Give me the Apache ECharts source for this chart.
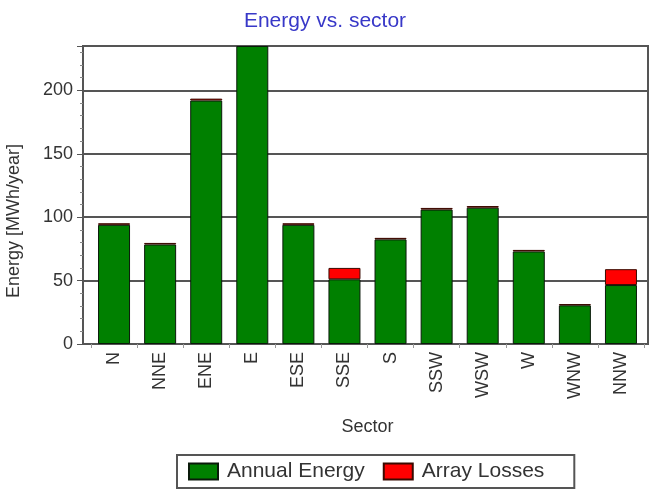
<!DOCTYPE html>
<html>
<head>
<meta charset="utf-8">
<script src="https://cdn.jsdelivr.net/npm/echarts@6/dist/echarts.min.js"></script>
<style>
  html, body { margin: 0; padding: 0; background: #fff; }
  #chart { width: 650px; height: 491px; }
</style>
</head>
<body>
<div id="chart"></div>
<script>
// sectors and energies
const sectors = ['N', 'NNE', 'ENE', 'E', 'ESE', 'SSE', 'S', 'SSW', 'WSW', 'W', 'WNW', 'NNW'];
const annualEnergy = [94, 78.5, 192, 235, 94, 51, 82.5, 106, 107.5, 73, 30.5, 46.5];
const arrayLosses = [1.2, 1.2, 1.5, 2, 1.2, 9, 1.2, 1.3, 1.3, 1.2, 1, 12.5];
const yTicks = { min: 0, max: 235, interval: 50 };

const font = 'Liberation Sans, Arial, sans-serif';
const textColor = '#333';
const lineColor = '#555';

const myChart = echarts.init(document.getElementById('chart'));

const option = {
  animation: false,
  backgroundColor: '#fff',
  textStyle: { fontFamily: font },
  title: {
    text: 'Energy vs. sector',
    left: 'center',
    top: 6,
    textStyle: { fontSize: 21, fontWeight: 'normal', color: '#3838c8', fontFamily: font }
  },
  legend: {
    left: 177,
    top: 455,
    padding: [6, 30, 6, 11],
    itemWidth: 29,
    itemHeight: 16,
    itemGap: 18,
    borderColor: lineColor,
    borderWidth: 2,
    icon: 'rect',
    textStyle: { fontSize: 21, color: textColor, fontFamily: font, padding: [0, 0, 0, 4] },
    data: ['Annual Energy', 'Array Losses']
  },
  // frame grid carries the box, y axis and horizontal lines;
  // bar grid is inset a little as in the original
  grid: [
    { left: 83, top: 46, width: 565, height: 298, show: true, borderColor: lineColor, borderWidth: 2 },
    { left: 91, top: 46, width: 553, height: 298 }
  ],
  xAxis: [
    { gridIndex: 0, type: 'value', show: false, min: 0, max: 1 },
    {
      gridIndex: 1,
      type: 'category',
      data: sectors,
      name: 'Sector',
      nameLocation: 'middle',
      nameGap: 74,
      nameTextStyle: { fontSize: 18, color: textColor },
      axisLine: { show: false },
      axisTick: { show: true, length: 4, lineStyle: { color: '#999' } },
      axisLabel: { rotate: 90, fontSize: 18, color: textColor, margin: 8 }
    }
  ],
  yAxis: [
    {
      gridIndex: 0,
      type: 'value',
      min: yTicks.min,
      max: yTicks.max,
      interval: yTicks.interval,
      axisLine: { show: true, lineStyle: { color: lineColor, width: 2 } },
      axisTick: { show: true, length: 6, lineStyle: { color: lineColor } },
      minorTick: { show: true, splitNumber: 5, length: 3, lineStyle: { color: '#888' } },
      axisLabel: { fontSize: 18, color: textColor, margin: 10, showMaxLabel: false },
      splitLine: { show: true, lineStyle: { color: lineColor, width: 2 } }
    },
    { gridIndex: 1, type: 'value', show: false, min: yTicks.min, max: yTicks.max, splitLine: { show: false } }
  ],
  graphic: [
    {
      type: 'text',
      x: 14,
      y: 221,
      rotation: Math.PI / 2,
      style: {
        text: 'Energy [MWh/year]',
        fontSize: 18,
        fontFamily: font,
        fill: textColor,
        align: 'center',
        verticalAlign: 'middle'
      }
    }
  ],
  series: [
    {
      name: 'Annual Energy',
      type: 'bar',
      xAxisIndex: 1,
      yAxisIndex: 1,
      stack: 'total',
      barWidth: 32,
      data: annualEnergy,
      itemStyle: { color: '#008000', borderColor: '#0a1a0a', borderWidth: 1 }
    },
    {
      name: 'Array Losses',
      type: 'bar',
      xAxisIndex: 1,
      yAxisIndex: 1,
      stack: 'total',
      barWidth: 32,
      data: arrayLosses,
      itemStyle: { color: '#ff0000', borderColor: '#3a0a00', borderWidth: 1 }
    }
  ]
};

myChart.setOption(option);
</script>
</body>
</html>
